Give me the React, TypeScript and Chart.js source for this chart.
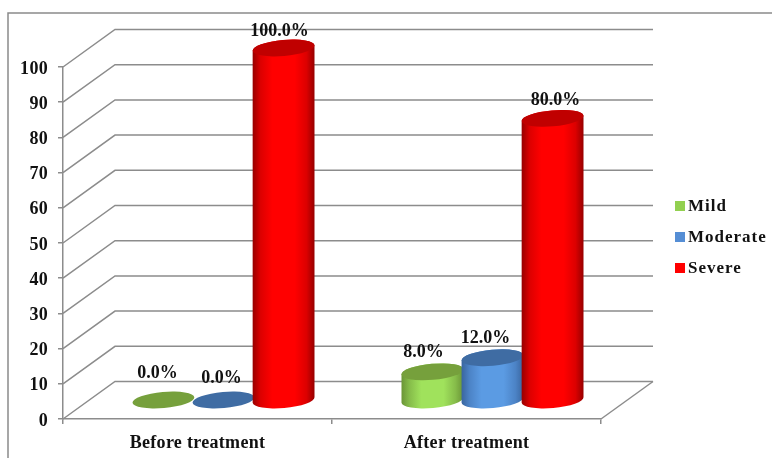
import React, { useEffect, useRef } from "react";
import { Chart, registerables } from "chart.js";

Chart.register(...registerables);

const categories = ["Before treatment", "After treatment"];
const seriesNames = ["Mild", "Moderate", "Severe"];
const mild = [0, 8];
const moderate = [0, 12];
const severe = [100, 80];

const FONT_FAMILY = '"Liberation Serif", serif';
const FRAME_COLOR = "#8a8a8a";
const GRID_COLOR = "#8c8c8c";

// Receding offset of the floor and walls, and of a cylinder's base from the front plane.
const WALL_DX = 52;
const WALL_DY = -37.5;
const BAR_DX = 26;
const BAR_DY = -19;
const ELLIPSE_RY = 8;
const ELLIPSE_TILT = (-5 * Math.PI) / 180;

type Palette = { legend: string; top: string; edge: string; mid: string; centre: string };
const palettes: Palette[] = [
  { legend: "#92D050", top: "#76A03C", edge: "#6A9436", mid: "#86BC4A", centre: "#A0E25C" },
  { legend: "#558ED5", top: "#3F6CA3", edge: "#39659E", mid: "#4C83C6", centre: "#5B9BE3" },
  { legend: "#FF0000", top: "#C00000", edge: "#960000", mid: "#DC0000", centre: "#FF0000" },
];

// Hand placement of each value label against the top of its cylinder, by series then category.
const labelNudges = [
  [[-6, -26.5], [-9, -19]],
  [[-2, -21.5], [-7, -19]],
  [[-4, -17], [3, -18]],
];

function setSpacing(chart: any, spacing: string) {
  chart.ctx.letterSpacing = spacing;
}

function drawCylinder(ctx: CanvasRenderingContext2D, cx: number, baseY: number, topY: number, rx: number, p: Palette) {
  if (baseY - topY > 0.5) {
    const g = ctx.createLinearGradient(cx - rx, 0, cx + rx, 0);
    g.addColorStop(0, p.edge);
    g.addColorStop(0.13, p.mid);
    g.addColorStop(0.32, p.centre);
    g.addColorStop(0.68, p.centre);
    g.addColorStop(0.87, p.mid);
    g.addColorStop(1, p.edge);
    ctx.beginPath();
    ctx.ellipse(cx, baseY, rx, ELLIPSE_RY, ELLIPSE_TILT, 0, Math.PI);
    ctx.ellipse(cx, topY, rx, ELLIPSE_RY, ELLIPSE_TILT, Math.PI, Math.PI * 2);
    ctx.closePath();
    ctx.fillStyle = g;
    ctx.fill();
  }
  ctx.beginPath();
  ctx.ellipse(cx, topY, rx, ELLIPSE_RY, ELLIPSE_TILT, 0, Math.PI * 2);
  ctx.fillStyle = p.top;
  ctx.fill();
}

const scene3d = {
  id: "scene3d",
  beforeUpdate(chart: any) {
    setSpacing(chart, "0.3px");
  },
  beforeDraw(chart: any) {
    setSpacing(chart, "0.3px");
    const { ctx, width, height } = chart;
    // Outer frame, running off the right and bottom of the canvas.
    ctx.save();
    ctx.strokeStyle = FRAME_COLOR;
    ctx.lineWidth = 1.5;
    ctx.beginPath();
    ctx.moveTo(8, height + 2);
    ctx.lineTo(8, 13);
    ctx.lineTo(width + 2, 13);
    ctx.stroke();
    ctx.restore();
  },
  beforeDatasetsDraw(chart: any) {
    const { ctx, chartArea, scales } = chart;
    const y = scales.y;
    const floorY = y.getPixelForValue(0);

    ctx.save();
    ctx.strokeStyle = GRID_COLOR;
    ctx.lineWidth = 1.5;
    // Side wall and back wall gridlines.
    y.ticks.forEach((t: any) => {
      const py = y.getPixelForValue(t.value);
      ctx.beginPath();
      ctx.moveTo(chartArea.left, py);
      ctx.lineTo(chartArea.left + WALL_DX, py + WALL_DY);
      ctx.lineTo(chartArea.right + WALL_DX, py + WALL_DY);
      ctx.stroke();
    });
    // Front-right edge of the floor.
    ctx.beginPath();
    ctx.moveTo(chartArea.right, floorY);
    ctx.lineTo(chartArea.right + WALL_DX, floorY + WALL_DY);
    ctx.stroke();
    ctx.restore();

    // Cylinders, later series overlapping earlier ones.
    chart.data.datasets.forEach((_: any, di: number) => {
      chart.getDatasetMeta(di).data.forEach((bar: any) => {
        const rx = bar.width / 2 + 1;
        drawCylinder(ctx, bar.x + BAR_DX, floorY + BAR_DY, bar.y + BAR_DY, rx, palettes[di]);
      });
    });
  },
  beforeDatasetDraw() {
    return false;
  },
  afterDatasetsDraw(chart: any) {
    const { ctx } = chart;
    ctx.save();
    ctx.font = `bold 18px ${FONT_FAMILY}`;
    ctx.fillStyle = "#111111";
    ctx.textAlign = "center";
    ctx.textBaseline = "middle";
    ctx.letterSpacing = "0px";
    chart.data.datasets.forEach((ds: any, di: number) => {
      chart.getDatasetMeta(di).data.forEach((bar: any, i: number) => {
        const [nx, ny] = labelNudges[di][i];
        const text = `${Number(ds.data[i]).toFixed(1)}%`;
        ctx.fillText(text, bar.x + BAR_DX + nx, bar.y + BAR_DY + ny);
      });
    });
    ctx.restore();
  },
  afterDraw(chart: any) {
    const { ctx } = chart;
    // Legend beside the plot.
    ctx.save();
    ctx.font = `bold 17px ${FONT_FAMILY}`;
    ctx.textBaseline = "middle";
    ctx.letterSpacing = "1px";
    chart.data.datasets.forEach((ds: any, di: number) => {
      const cy = 206 + di * 31;
      ctx.fillStyle = palettes[di].legend;
      ctx.fillRect(675, cy - 5, 10, 10);
      ctx.fillStyle = "#111111";
      ctx.fillText(ds.label, 688, cy + 1);
    });
    ctx.restore();
  },
};

export default function App() {
  const ref = useRef<HTMLCanvasElement>(null);

  useEffect(() => {
    const seriesValues = [mild, moderate, severe];
    const chart = new Chart(ref.current as HTMLCanvasElement, {
      type: "bar",
      data: {
        labels: categories,
        datasets: seriesNames.map((name, i) => ({
          label: name,
          data: seriesValues[i],
          backgroundColor: palettes[i].legend,
          categoryPercentage: 0.67,
          barPercentage: 1,
        })),
      },
      options: {
        responsive: false,
        animation: false,
        layout: { padding: { left: 8, right: 171, top: 67, bottom: 0 } },
        plugins: { legend: { display: false }, tooltip: { enabled: false } },
        scales: {
          x: {
            grid: { drawOnChartArea: false, color: GRID_COLOR, lineWidth: 1.5, tickLength: 5 },
            border: { color: GRID_COLOR, width: 1.5 },
            ticks: {
              color: "#111111",
              padding: 9,
              maxRotation: 0,
              autoSkip: false,
              font: { family: FONT_FAMILY, size: 18, weight: "bold" },
            },
            afterFit(scale: any) {
              scale.height = 39;
            },
          },
          y: {
            min: 0,
            max: 100,
            grid: { drawOnChartArea: false, color: GRID_COLOR, lineWidth: 1.5, tickLength: 5 },
            border: { color: GRID_COLOR, width: 1.5 },
            ticks: {
              stepSize: 10,
              color: "#111111",
              padding: 10,
              labelOffset: 2,
              font: { family: FONT_FAMILY, size: 18, weight: "bold" },
            },
            afterFit(scale: any) {
              scale.width = 55;
            },
          },
        },
      },
      plugins: [scene3d],
    } as any);
    return () => chart.destroy();
  }, []);

  return (
    <div style={{ position: "absolute", left: 0, top: 0, width: 772, height: 458, background: "#fff" }}>
      <canvas ref={ref} width={772} height={458} style={{ display: "block" }} />
    </div>
  );
}
